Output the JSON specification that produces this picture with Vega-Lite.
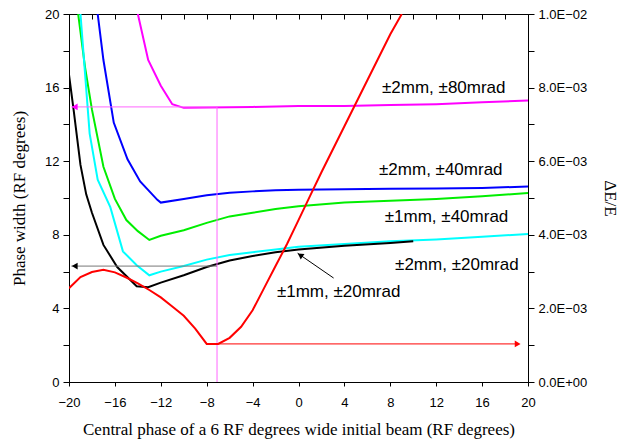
{
  "$schema": "https://vega.github.io/schema/vega-lite/v6.json",
  "autosize": {"type": "none"},
  "padding": {"left": 69, "top": 14, "right": 96, "bottom": 61},
  "width": 459,
  "height": 368,
  "background": "white",
  "config": {
    "font": "Liberation Sans",
    "view": {"stroke": "black", "strokeWidth": 1},
    "axis": {
      "grid": false,
      "domainColor": "black",
      "tickColor": "black",
      "labelColor": "black",
      "labelFont": "Liberation Sans",
      "labelFontSize": 13,
      "titleFont": "Liberation Serif",
      "titleFontSize": 17,
      "titleFontWeight": "normal",
      "titleColor": "black",
      "tickSize": 6
    }
  },
  "datasets": {
    "curves": [
      {"s": "m80", "x": -14, "y": 20}, {"s": "m80", "x": -13.1, "y": 17.5}, {"s": "m80", "x": -12, "y": 16.1}, {"s": "m80", "x": -11, "y": 15.1}, {"s": "m80", "x": -10, "y": 14.9}, {"s": "m80", "x": -8, "y": 14.92}, {"s": "m80", "x": -4, "y": 14.95}, {"s": "m80", "x": 0, "y": 15.0}, {"s": "m80", "x": 4, "y": 15.0}, {"s": "m80", "x": 8, "y": 15.05}, {"s": "m80", "x": 12, "y": 15.1}, {"s": "m80", "x": 16, "y": 15.2}, {"s": "m80", "x": 20, "y": 15.3},
      {"s": "b40", "x": -17.5, "y": 20}, {"s": "b40", "x": -17, "y": 17.5}, {"s": "b40", "x": -16.1, "y": 14.1}, {"s": "b40", "x": -14.9, "y": 12.1}, {"s": "b40", "x": -13.8, "y": 10.9}, {"s": "b40", "x": -12.3, "y": 9.9}, {"s": "b40", "x": -12, "y": 9.75}, {"s": "b40", "x": -10, "y": 9.95}, {"s": "b40", "x": -8, "y": 10.15}, {"s": "b40", "x": -6, "y": 10.28}, {"s": "b40", "x": -4, "y": 10.36}, {"s": "b40", "x": -2, "y": 10.42}, {"s": "b40", "x": 0, "y": 10.45}, {"s": "b40", "x": 4, "y": 10.48}, {"s": "b40", "x": 8, "y": 10.5}, {"s": "b40", "x": 12, "y": 10.52}, {"s": "b40", "x": 16, "y": 10.55}, {"s": "b40", "x": 20, "y": 10.62},
      {"s": "g40", "x": -19.2, "y": 20}, {"s": "g40", "x": -18.6, "y": 17.1}, {"s": "g40", "x": -18, "y": 14.8}, {"s": "g40", "x": -17, "y": 11.7}, {"s": "g40", "x": -16, "y": 9.95}, {"s": "g40", "x": -15, "y": 8.8}, {"s": "g40", "x": -14, "y": 8.2}, {"s": "g40", "x": -13, "y": 7.72}, {"s": "g40", "x": -12, "y": 7.95}, {"s": "g40", "x": -10, "y": 8.25}, {"s": "g40", "x": -8, "y": 8.65}, {"s": "g40", "x": -6, "y": 9.0}, {"s": "g40", "x": -4, "y": 9.2}, {"s": "g40", "x": -2, "y": 9.4}, {"s": "g40", "x": 0, "y": 9.55}, {"s": "g40", "x": 4, "y": 9.75}, {"s": "g40", "x": 8, "y": 9.85}, {"s": "g40", "x": 12, "y": 9.95}, {"s": "g40", "x": 16, "y": 10.1}, {"s": "g40", "x": 20, "y": 10.27},
      {"s": "c20", "x": -19, "y": 20}, {"s": "c20", "x": -18.2, "y": 13.5}, {"s": "c20", "x": -17.5, "y": 11.0}, {"s": "c20", "x": -16.4, "y": 9.5}, {"s": "c20", "x": -15.3, "y": 7.1}, {"s": "c20", "x": -14.1, "y": 6.35}, {"s": "c20", "x": -13, "y": 5.8}, {"s": "c20", "x": -12, "y": 6.0}, {"s": "c20", "x": -10, "y": 6.3}, {"s": "c20", "x": -8, "y": 6.65}, {"s": "c20", "x": -6, "y": 6.9}, {"s": "c20", "x": -4, "y": 7.05}, {"s": "c20", "x": -2, "y": 7.2}, {"s": "c20", "x": 0, "y": 7.35}, {"s": "c20", "x": 4, "y": 7.5}, {"s": "c20", "x": 8, "y": 7.65}, {"s": "c20", "x": 12, "y": 7.75}, {"s": "c20", "x": 16, "y": 7.9}, {"s": "c20", "x": 20, "y": 8.04},
      {"s": "k20", "x": -20, "y": 16.7}, {"s": "k20", "x": -19.6, "y": 14.8}, {"s": "k20", "x": -19, "y": 11.8}, {"s": "k20", "x": -18.5, "y": 10.2}, {"s": "k20", "x": -18, "y": 9.2}, {"s": "k20", "x": -17, "y": 7.45}, {"s": "k20", "x": -15.8, "y": 6.25}, {"s": "k20", "x": -14.1, "y": 5.2}, {"s": "k20", "x": -13.1, "y": 5.15}, {"s": "k20", "x": -12, "y": 5.4}, {"s": "k20", "x": -10, "y": 5.8}, {"s": "k20", "x": -8, "y": 6.25}, {"s": "k20", "x": -6, "y": 6.6}, {"s": "k20", "x": -4, "y": 6.85}, {"s": "k20", "x": -2, "y": 7.05}, {"s": "k20", "x": 0, "y": 7.2}, {"s": "k20", "x": 4, "y": 7.4}, {"s": "k20", "x": 8, "y": 7.55}, {"s": "k20", "x": 10, "y": 7.65}
    ],
    "spread": [
      {"x": -20, "de": 0.00255}, {"x": -19, "de": 0.00285}, {"x": -18, "de": 0.00299}, {"x": -17, "de": 0.00305}, {"x": -16, "de": 0.00298}, {"x": -15, "de": 0.00284}, {"x": -14, "de": 0.00268}, {"x": -13, "de": 0.0025}, {"x": -12, "de": 0.0023}, {"x": -11, "de": 0.00205}, {"x": -10, "de": 0.0018}, {"x": -9, "de": 0.00145}, {"x": -8, "de": 0.001035}, {"x": -7, "de": 0.001035}, {"x": -6, "de": 0.0012}, {"x": -5, "de": 0.0015}, {"x": -4, "de": 0.00195}, {"x": -3, "de": 0.00255}, {"x": -2, "de": 0.00315}, {"x": -1, "de": 0.00375}, {"x": 0, "de": 0.0044}, {"x": 1, "de": 0.00505}, {"x": 2, "de": 0.0057}, {"x": 4, "de": 0.00695}, {"x": 6, "de": 0.0082}, {"x": 8, "de": 0.00945}, {"x": 9, "de": 0.01}
    ],
    "guides": [
      {"id": "pink", "x": -19.8, "x2": -7.1, "y": 14.95, "y2": 14.95},
      {"id": "pink", "x": -7.1, "x2": -7.1, "y": 0, "y2": 14.95},
      {"id": "gray", "x": -19.8, "x2": -7.1, "y": 6.3, "y2": 6.3},
      {"id": "red", "x": -7.1, "x2": 19.2, "y": 2.07, "y2": 2.07},
      {"id": "black", "x": 3.06, "x2": -0.08, "y": 5.65, "y2": 7.0}
    ],
    "heads": [
      {"id": "pink", "x": -19.5, "y": 14.95, "dir": "triangle-left", "ang": 0},
      {"id": "black", "x": -19.5, "y": 6.3, "dir": "triangle-left", "ang": 0},
      {"id": "red", "x": 19.1, "y": 2.07, "dir": "triangle-right", "ang": 0},
      {"id": "black", "x": 0.15, "y": 6.9, "dir": "triangle-up", "ang": 304}
    ],
    "labels": [
      {"x": 12.66, "y": 16.0, "t": "±2mm, ±80mrad"},
      {"x": 12.4, "y": 11.5, "t": "±2mm, ±40mrad"},
      {"x": 12.9, "y": 8.97, "t": "±1mm, ±40mrad"},
      {"x": 13.8, "y": 6.36, "t": "±2mm, ±20mrad"},
      {"x": 3.5, "y": 4.9, "t": "±1mm, ±20mrad"}
    ]
  },
  "layer": [
    {
      "data": {"name": "curves"},
      "mark": {"type": "line", "strokeWidth": 2, "clip": true},
      "encoding": {
        "x": {
          "field": "x", "type": "quantitative",
          "scale": {"domain": [-20, 20], "nice": false, "zero": false},
          "axis": {
            "orient": "bottom",
            "values": [-20, -16, -12, -8, -4, 0, 4, 8, 12, 16, 20],
            "tickSize": 4,
            "labelPadding": 10,
            "labelFlush": false,
            "labelOverlap": false,
            "title": "Central phase of a 6 RF degrees wide initial beam (RF degrees)",
            "titlePadding": 12
          }
        },
        "y": {
          "field": "y", "type": "quantitative",
          "scale": {"domain": [0, 20], "nice": false},
          "axis": {
            "orient": "left",
            "values": [0, 2, 4, 6, 8, 10, 12, 14, 16, 18, 20],
            "labelExpr": "datum.value % 4 == 0 ? datum.label : ''",
            "labelPadding": 4,
            "labelFlush": false,
            "labelOverlap": false,
            "title": "Phase width (RF degrees)",
            "titlePadding": 16
          }
        },
        "color": {
          "field": "s", "type": "nominal",
          "scale": {"domain": ["m80", "b40", "g40", "c20", "k20"], "range": ["#FF00FF", "#0000FF", "#00EE00", "#00FFFF", "#000000"]},
          "legend": null
        },
        "detail": {"field": "s"}
      }
    },
    {
      "data": {"name": "guides"},
      "mark": {"type": "rule", "strokeWidth": 1},
      "encoding": {
        "x": {"field": "x", "type": "quantitative", "scale": {"domain": [-20, 20], "nice": false, "zero": false}, "axis": null},
        "x2": {"field": "x2"},
        "y": {"field": "y", "type": "quantitative", "scale": {"domain": [0, 20], "nice": false}, "axis": null},
        "y2": {"field": "y2"},
        "color": {"field": "id", "type": "nominal", "scale": {"domain": ["pink", "gray", "red", "black"], "range": ["#FF66FF", "#777777", "#FF0000", "#000000"]}, "legend": null}
      }
    },
    {
      "data": {"name": "heads"},
      "mark": {"type": "point", "filled": true, "opacity": 1, "size": 45},
      "encoding": {
        "x": {"field": "x", "type": "quantitative", "scale": {"domain": [-20, 20], "nice": false, "zero": false}, "axis": null},
        "y": {"field": "y", "type": "quantitative", "scale": {"domain": [0, 20], "nice": false}, "axis": null},
        "shape": {"field": "dir", "type": "nominal", "scale": {"domain": ["triangle-left", "triangle-right", "triangle-up"], "range": ["triangle-left", "triangle-right", "triangle-up"]}, "legend": null},
        "angle": {"field": "ang", "type": "quantitative", "scale": {"domain": [0, 360], "range": [0, 360]}, "legend": null},
        "color": {"field": "id", "type": "nominal", "scale": {"domain": ["pink", "gray", "red", "black"], "range": ["#FF00FF", "#777777", "#FF0000", "#000000"]}, "legend": null}
      }
    },
    {
      "data": {"name": "labels"},
      "mark": {"type": "text", "font": "Liberation Sans", "fontSize": 17, "color": "black", "align": "center", "baseline": "middle"},
      "encoding": {
        "x": {"field": "x", "type": "quantitative", "scale": {"domain": [-20, 20], "nice": false, "zero": false}, "axis": {"orient": "top", "values": [-20, -18, -16, -14, -12, -10, -8, -6, -4, -2, 0, 2, 4, 6, 8, 10, 12, 14, 16, 18, 20], "labels": false, "ticks": true, "tickSize": 5, "offset": -5, "domain": false, "title": null}},
        "y": {"field": "y", "type": "quantitative", "scale": {"domain": [0, 20], "nice": false}, "axis": null},
        "text": {"field": "t"}
      }
    },
    {
      "data": {"name": "spread"},
      "mark": {"type": "line", "strokeWidth": 2, "color": "#FF0000", "clip": true},
      "encoding": {
        "x": {"field": "x", "type": "quantitative", "scale": {"domain": [-20, 20], "nice": false, "zero": false}, "axis": null},
        "y": {
          "field": "de", "type": "quantitative",
          "scale": {"domain": [0, 0.01], "nice": false},
          "axis": {
            "orient": "right",
            "values": [0, 0.001, 0.002, 0.003, 0.004, 0.005, 0.006, 0.007, 0.008, 0.009, 0.01],
            "labelExpr": "datum.value < 0.0000001 ? '0.0E+00' : datum.value > 0.0099 ? '1.0E\u221202' : (round(datum.value * 1000) % 2 == 0 ? format(datum.value * 1000, '.1f') + 'E\u221203' : '')",
            "labelPadding": 4,
            "labelFlush": false,
            "labelOverlap": false,
            "title": "ΔE/E",
            "titlePadding": 14
          }
        }
      }
    }
  ],
  "resolve": {"scale": {"x": "independent", "y": "independent", "color": "independent"}, "axis": {"x": "independent", "y": "independent"}}
}
